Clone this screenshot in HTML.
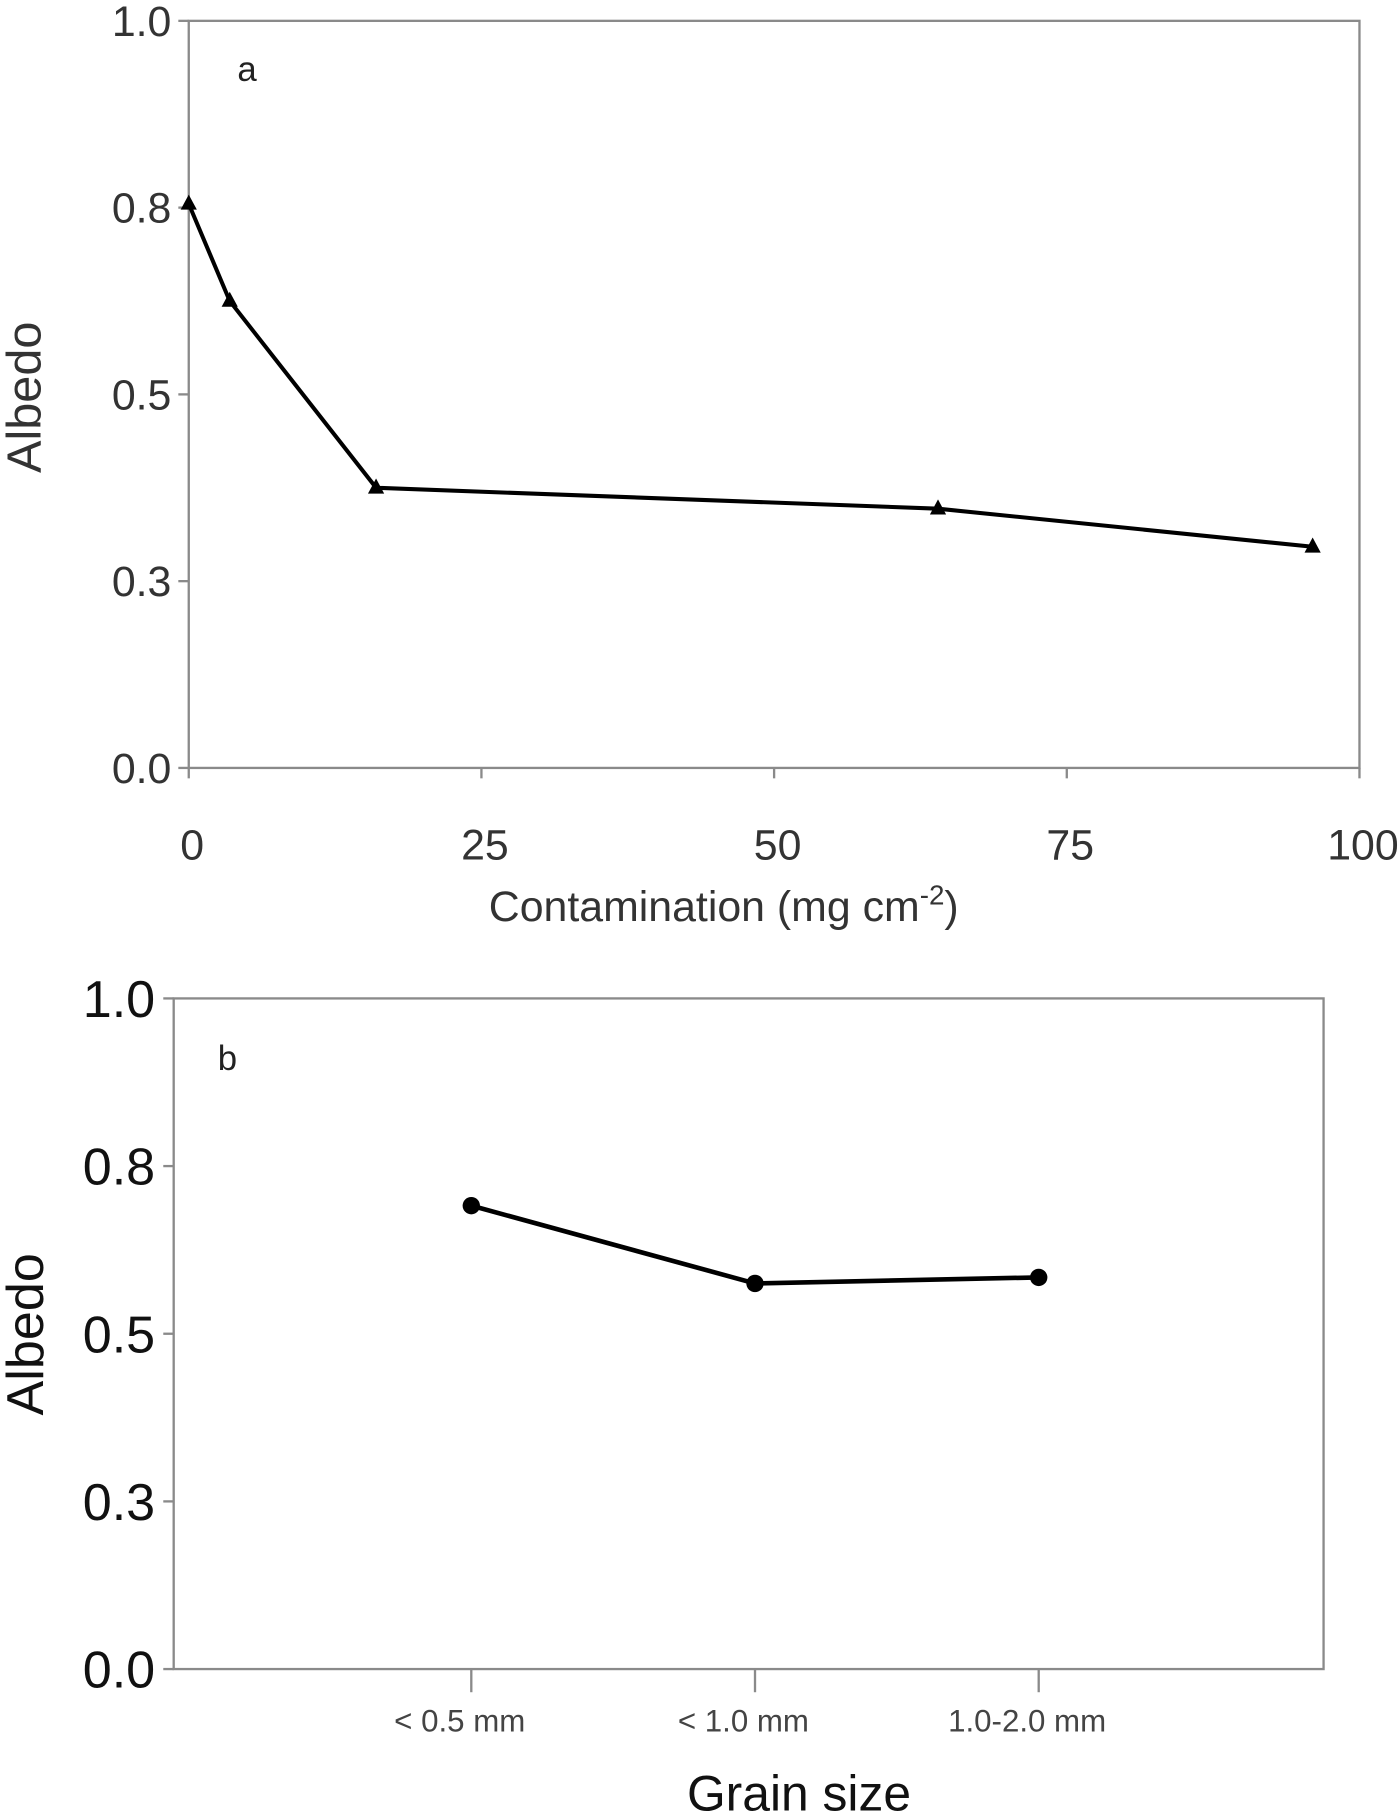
<!DOCTYPE html>
<html><head><meta charset="utf-8"><style>
html,body{margin:0;padding:0;background:#fff;}
svg{display:block;font-family:"Liberation Sans",sans-serif;}
</style></head><body>
<svg id="chart" width="1400" height="1815" viewBox="0 0 1209 1567" preserveAspectRatio="none" xmlns="http://www.w3.org/2000/svg">
<g id="pa"></g>
<g id="pb"></g>
</svg>
<script>
// Panel a data
const contamination = [0, 3.5, 16, 64, 96];
const albedoA = [0.755, 0.625, 0.375, 0.347, 0.296];
const xTicksA = [0, 25, 50, 75, 100];
const yTickVals = [0, 0.25, 0.5, 0.75, 1.0];
const yTickLabels = ["0.0", "0.3", "0.5", "0.8", "1.0"];
// Panel b data
const grainSizes = ["< 0.5 mm", "< 1.0 mm", "1.0-2.0 mm"];
const albedoB = [0.691, 0.575, 0.584];

const NS = "http://www.w3.org/2000/svg";
function mk(parent, tag, attrs, text) {
  const e = document.createElementNS(NS, tag);
  for (const k in attrs) e.setAttribute(k, attrs[k]);
  if (text !== undefined) e.textContent = text;
  parent.appendChild(e);
  return e;
}
const AX = "#8a8a8a";

// ---- Panel A ----
const pa = document.getElementById('pa');
const A = {l:163, r:1174, t:18, b:663};
const xA = v => A.l + (v - 0) / 100 * (A.r - A.l);
const yA = v => A.b - v * (A.b - A.t);
let fr = mk(pa, 'rect', {x:A.l, y:A.t, width:A.r-A.l, height:A.b-A.t, fill:'none', stroke:AX, 'stroke-width':2});


yTickVals.forEach((v, i) => {
  const y = yA(v);
  let tk = mk(pa, 'line', {x1:A.l-9, x2:A.l, y1:y, y2:y, stroke:AX, 'stroke-width':2});
  
  
  let t = mk(pa, 'text', {x:A.l-15, y:y+13, 'text-anchor':'end', 'font-size':37, fill:'#333'}, yTickLabels[i]);
  
  
});
xTicksA.forEach(v => {
  const x = xA(v);
  let tk = mk(pa, 'line', {x1:x, x2:x, y1:A.b, y2:A.b+9, stroke:AX, 'stroke-width':2});
  
  
  let t = mk(pa, 'text', {x:x+3, y:742, 'text-anchor':'middle', 'font-size':37, fill:'#333'}, String(v));
  
  
});
let ta = mk(pa, 'text', {x:625, y:795, 'text-anchor':'middle', 'font-size':37, fill:'#333'});


ta.innerHTML = 'Contamination (mg cm<tspan dy="-14" font-size="24">-2</tspan><tspan dy="14">)</tspan>';
let ya = mk(pa, 'text', {x:0, y:0, transform:'translate(35,343) rotate(-90)', 'text-anchor':'middle', 'font-size':42, fill:'#333'}, 'Albedo');


let la = mk(pa, 'text', {x:205, y:70, 'font-size':30, fill:'#222'}, 'a');


let ptsA = contamination.map((c, i) => xA(c) + ',' + yA(albedoA[i])).join(' ');
let lnA = mk(pa, 'polyline', {points:ptsA, fill:'none', stroke:'#000', 'stroke-width':3.5});


contamination.forEach((c, i) => {
  const x = xA(c), y = yA(albedoA[i]);
  let m = mk(pa, 'polygon', {points:`${x},${y-8} ${x-7},${y+5} ${x+7},${y+5}`, fill:'#000'});
  
  
});

// ---- Panel B ----
const pb = document.getElementById('pb');
const B = {l:150, r:1143, t:862, b:1441};
const yB = v => B.b - v * (B.b - B.t);
const xB = i => 407 + i * 245;
let fb = mk(pb, 'rect', {x:B.l, y:B.t, width:B.r-B.l, height:B.b-B.t, fill:'none', stroke:AX, 'stroke-width':2});


yTickVals.forEach((v, i) => {
  const y = yB(v);
  let tk = mk(pb, 'line', {x1:B.l-9, x2:B.l, y1:y, y2:y, stroke:AX, 'stroke-width':2});
  
  
  let t = mk(pb, 'text', {x:B.l-16, y:y+16, 'text-anchor':'end', 'font-size':45, fill:'#111'}, yTickLabels[i]);
  
  
});
grainSizes.forEach((g, i) => {
  const x = xB(i);
  let tk = mk(pb, 'line', {x1:x, x2:x, y1:B.b, y2:B.b+20, stroke:AX, 'stroke-width':2});
  
  
  let t = mk(pb, 'text', {x:x-10, y:1495, 'text-anchor':'middle', 'font-size':27, fill:'#444'}, g);
  
  
});
let tb = mk(pb, 'text', {x:690, y:1563, 'text-anchor':'middle', 'font-size':43, fill:'#111'}, 'Grain size');


let yb = mk(pb, 'text', {x:0, y:0, transform:'translate(37,1152) rotate(-90)', 'text-anchor':'middle', 'font-size':45, fill:'#111'}, 'Albedo');


let lb = mk(pb, 'text', {x:188, y:924, 'font-size':30, fill:'#222'}, 'b');


let ptsB = albedoB.map((v, i) => xB(i) + ',' + yB(v)).join(' ');
let lnB = mk(pb, 'polyline', {points:ptsB, fill:'none', stroke:'#000', 'stroke-width':4});


albedoB.forEach((v, i) => {
  let c = mk(pb, 'circle', {cx:xB(i), cy:yB(v), r:7.5, fill:'#000'});
  
  
});
</script>
</body></html>
